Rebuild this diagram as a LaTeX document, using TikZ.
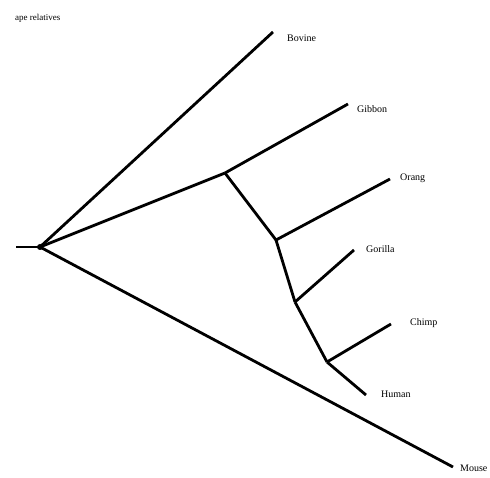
\documentclass[tikz,border=0pt]{standalone}
\usepackage{fontspec}
\setmainfont{Liberation Serif}
\begin{document}
\begin{tikzpicture}[x=1pt,y=-1pt,
  branch/.style={line width=2.8pt,line cap=butt,line join=round},
  lbl/.style={anchor=west,inner sep=0pt,font=\fontsize{10}{12}\selectfont}]
\useasboundingbox (0,0) rectangle (490,478);
\node[anchor=west,inner sep=0pt,font=\fontsize{9}{11}\selectfont] (title) at (15,18) {ape relatives};
% internal nodes
\coordinate (stem) at (16,247);
\coordinate (root) at (40,247);
\coordinate (ape) at (225,173);
\coordinate (n2) at (276,240);
\coordinate (n3) at (295,302);
\coordinate (n4) at (327,362);
% tips
\coordinate (tBovine) at (273,32);
\coordinate (tGibbon) at (348,104);
\coordinate (tOrang) at (390,179);
\coordinate (tGorilla) at (354,250);
\coordinate (tChimp) at (391,324);
\coordinate (tHuman) at (366,395);
\coordinate (tMouse) at (453,467);
% labels
\node[lbl] (Bovine) at (287,38) {Bovine};
\node[lbl] (Gibbon) at (357,109) {Gibbon};
\node[lbl] (Orang) at (400,178) {Orang};
\node[lbl] (Gorilla) at (366,249) {Gorilla};
\node[lbl] (Chimp) at (410,323) {Chimp};
\node[lbl] (Human) at (381,394) {Human};
\node[lbl] (Mouse) at (460,468) {Mouse};
% branches
\draw[branch] (stem) -- (root);
\draw[branch] (root) -- (tBovine);
\draw[branch] (root) -- (tMouse);
\draw[branch] (root) -- (ape);
\draw[branch] (ape) -- (tGibbon);
\draw[branch] (ape) -- (n2);
\draw[branch] (n2) -- (tOrang);
\draw[branch] (n2) -- (n3);
\draw[branch] (n3) -- (tGorilla);
\draw[branch] (n3) -- (n4);
\draw[branch] (n4) -- (tChimp);
\draw[branch] (n4) -- (tHuman);
\fill (root) circle (3pt);
\end{tikzpicture}
\end{document}
